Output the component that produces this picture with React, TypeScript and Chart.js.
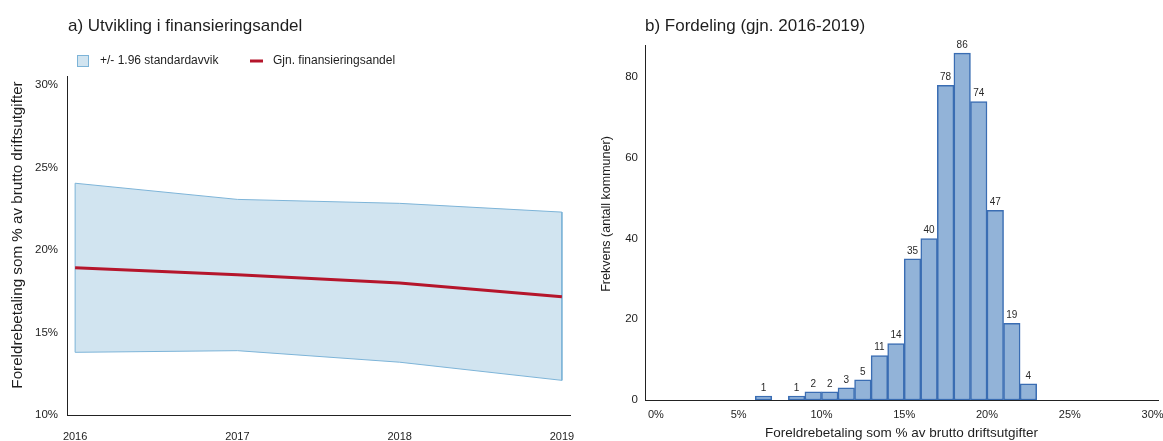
import React, { useEffect, useRef } from 'react';
import { Chart, registerables } from 'chart.js';

Chart.register(...registerables);

const FONT = '"Liberation Sans", Arial, Helvetica, sans-serif';
const TEXT = '#1e1e1e';

// ---- Panel a) data ----
const leftTitle = 'a) Utvikling i finansieringsandel';
const bandLabel = '+/- 1.96 standardavvik';
const meanLabel = 'Gjn. finansieringsandel';
const leftYTitle = 'Foreldrebetaling som % av brutto driftsutgifter';
const years = [2016, 2017, 2018, 2019];
const meanShare = [18.92, 18.5, 18.0, 17.17];
const upperBand = [24.05, 23.07, 22.83, 22.3];
const lowerBand = [13.8, 13.9, 13.2, 12.1];
const leftYTicks = [10, 15, 20, 25, 30];

// ---- Panel b) data ----
const rightTitle = 'b) Fordeling (gjn. 2016-2019)';
const rightXTitle = 'Foreldrebetaling som % av brutto driftsutgifter';
const rightYTitle = 'Frekvens (antall kommuner)';
const binStarts = [6, 7, 8, 9, 10, 11, 12, 13, 14, 15, 16, 17, 18, 19, 20, 21, 22];
const binCounts = [1, 0, 1, 2, 2, 3, 5, 11, 14, 35, 40, 78, 86, 74, 47, 19, 4];
const rightXTicks = [0, 5, 10, 15, 20, 25, 30];
const rightYTicks = [0, 20, 40, 60, 80];

const LEFT_W = 590;
const RIGHT_W = 573;
const H = 441;

function drawVerticalText(ctx: CanvasRenderingContext2D, text: string, x: number, y: number, size: number) {
  ctx.save();
  ctx.translate(x, y);
  ctx.rotate(-Math.PI / 2);
  ctx.font = `${size}px ${FONT}`;
  ctx.fillStyle = TEXT;
  ctx.textAlign = 'center';
  ctx.textBaseline = 'middle';
  ctx.fillText(text, 0, 0);
  ctx.restore();
}

function LeftChart() {
  const ref = useRef<HTMLCanvasElement | null>(null);
  useEffect(() => {
    if (!ref.current) return;
    const header = {
      id: 'leftHeader',
      afterDraw(chart: any) {
        const ctx = chart.ctx as CanvasRenderingContext2D;
        ctx.save();
        ctx.fillStyle = TEXT;
        ctx.textAlign = 'left';
        ctx.textBaseline = 'alphabetic';
        ctx.font = `17px ${FONT}`;
        ctx.fillText(leftTitle, 68, 31);
        // legend
        ctx.fillStyle = '#d1e4f0';
        ctx.fillRect(77.5, 55.5, 11, 11);
        ctx.strokeStyle = '#7db4d8';
        ctx.lineWidth = 1;
        ctx.strokeRect(77.5, 55.5, 11, 11);
        ctx.font = `12px ${FONT}`;
        ctx.fillStyle = TEXT;
        ctx.textBaseline = 'middle';
        ctx.fillText(bandLabel, 100, 61);
        ctx.strokeStyle = '#b5152b';
        ctx.lineWidth = 3;
        ctx.beginPath();
        ctx.moveTo(250, 61);
        ctx.lineTo(263, 61);
        ctx.stroke();
        ctx.fillText(meanLabel, 273, 61);
        ctx.restore();
        drawVerticalText(ctx, leftYTitle, 18, 235, 15.2);
      },
    };
    // closed outline of the band: upper edge forward, lower edge backward
    const outline = [
      ...years.map((x, i) => ({ x, y: upperBand[i] })),
      ...years.map((x, i) => ({ x, y: lowerBand[i] })).reverse(),
      { x: years[0], y: upperBand[0] },
    ];
    const chart = new Chart(ref.current, {
      type: 'line',
      data: {
        datasets: [
          {
            label: meanLabel,
            data: years.map((x, i) => ({ x, y: meanShare[i] })),
            borderColor: '#b5152b',
            borderWidth: 3,
            pointRadius: 0,
            fill: false,
            tension: 0,
          },
          {
            label: 'outline',
            data: outline,
            borderColor: '#7db4d8',
            borderWidth: 1,
            pointRadius: 0,
            fill: false,
            tension: 0,
          },
          {
            label: bandLabel,
            data: years.map((x, i) => ({ x, y: upperBand[i] })),
            borderWidth: 0,
            borderColor: 'rgba(0,0,0,0)',
            backgroundColor: '#d1e4f0',
            pointRadius: 0,
            fill: '+1',
            tension: 0,
          },
          {
            label: 'lower',
            data: years.map((x, i) => ({ x, y: lowerBand[i] })),
            borderWidth: 0,
            borderColor: 'rgba(0,0,0,0)',
            pointRadius: 0,
            fill: false,
            tension: 0,
          },
        ],
      },
      options: {
        animation: false,
        responsive: false,
        devicePixelRatio: 1,
        layout: { padding: { left: 0, right: 20, top: 76, bottom: 0 } },
        plugins: {
          legend: { display: false },
          title: { display: false },
          tooltip: { enabled: false },
        },
        scales: {
          x: {
            type: 'linear',
            min: 2015.95,
            max: 2019.05,
            grid: { display: false, drawTicks: false },
            border: { display: true, color: '#222', width: 1 },
            afterBuildTicks: (s: any) => {
              s.ticks = years.map((v) => ({ value: v }));
            },
            afterFit: (s: any) => {
              s.height = 26;
              s.paddingLeft = 0;
              s.paddingRight = 0;
            },
            ticks: {
              callback: (v: any) => String(v),
              font: { family: FONT, size: 11 },
              color: TEXT,
              padding: 15,
              maxRotation: 0,
              autoSkip: false,
            },
          },
          y: {
            type: 'linear',
            min: 10,
            max: 30.55,
            grid: { display: false, drawTicks: false },
            border: { display: true, color: '#222', width: 1 },
            afterBuildTicks: (s: any) => {
              s.ticks = leftYTicks.map((v) => ({ value: v }));
            },
            afterFit: (s: any) => {
              s.width = 67;
            },
            ticks: {
              callback: (v: any) => `${v}%`,
              font: { family: FONT, size: 11.5 },
              color: TEXT,
              padding: 9,
            },
          },
        },
      },
      plugins: [header],
    } as any);
    return () => chart.destroy();
  }, []);
  return (
    <canvas
      ref={ref}
      width={LEFT_W}
      height={H}
      style={{ position: 'absolute', left: 0, top: 0, width: LEFT_W, height: H }}
    />
  );
}

function RightChart() {
  const ref = useRef<HTMLCanvasElement | null>(null);
  useEffect(() => {
    if (!ref.current) return;
    const header = {
      id: 'rightHeader',
      afterDraw(chart: any) {
        const ctx = chart.ctx as CanvasRenderingContext2D;
        ctx.save();
        ctx.fillStyle = TEXT;
        ctx.textAlign = 'left';
        ctx.textBaseline = 'alphabetic';
        ctx.font = `17px ${FONT}`;
        ctx.fillText(rightTitle, 55, 31);
        ctx.restore();
        drawVerticalText(ctx, rightYTitle, 17, 214, 12.5);
      },
    };
    const barLabels = {
      id: 'barLabels',
      afterDatasetsDraw(chart: any) {
        const ctx = chart.ctx as CanvasRenderingContext2D;
        const meta = chart.getDatasetMeta(0);
        ctx.save();
        ctx.fillStyle = '#2a2a2a';
        ctx.font = `10px ${FONT}`;
        ctx.textAlign = 'center';
        ctx.textBaseline = 'bottom';
        meta.data.forEach((bar: any, i: number) => {
          const c = binCounts[i];
          if (!c || !isFinite(bar.y)) return;
          ctx.fillText(String(c), bar.x, bar.y - 3);
        });
        ctx.restore();
      },
    };
    const chart = new Chart(ref.current, {
      type: 'bar',
      data: {
        datasets: [
          {
            label: rightYTitle,
            data: binStarts.map((b, i) => ({ x: b + 0.5, y: binCounts[i] === 0 ? null : binCounts[i] })),
            backgroundColor: '#92b3d8',
            borderColor: '#3a6db3',
            borderWidth: 1.5,
            borderSkipped: false,
            barPercentage: 1,
            categoryPercentage: 1,
          },
        ],
      },
      options: {
        animation: false,
        responsive: false,
        devicePixelRatio: 1,
        layout: { padding: { left: 0, right: 5, top: 45, bottom: 0 } },
        plugins: {
          legend: { display: false },
          title: { display: false },
          tooltip: { enabled: false },
        },
        scales: {
          x: {
            type: 'linear',
            min: -0.66,
            max: 30.33,
            offset: false,
            grid: { display: false, drawTicks: false, offset: false },
            border: { display: true, color: '#222', width: 1 },
            afterBuildTicks: (s: any) => {
              s.ticks = rightXTicks.map((v) => ({ value: v }));
            },
            afterFit: (s: any) => {
              s.height = 41;
              s.paddingLeft = 0;
              s.paddingRight = 0;
            },
            ticks: {
              callback: (v: any) => `${v}%`,
              font: { family: FONT, size: 11 },
              color: TEXT,
              padding: 8,
              maxRotation: 0,
              autoSkip: false,
            },
            title: {
              display: true,
              text: rightXTitle,
              font: { family: FONT, size: 13.5 },
              color: TEXT,
              padding: { top: 0, bottom: 0 },
            },
          },
          y: {
            type: 'linear',
            min: 0,
            max: 88,
            grid: { display: false, drawTicks: false },
            border: { display: true, color: '#222', width: 1 },
            afterBuildTicks: (s: any) => {
              s.ticks = rightYTicks.map((v) => ({ value: v }));
            },
            afterFit: (s: any) => {
              s.width = 55;
            },
            ticks: {
              font: { family: FONT, size: 11.5 },
              color: TEXT,
              padding: 7,
            },
          },
        },
      },
      plugins: [barLabels, header],
    } as any);
    return () => chart.destroy();
  }, []);
  return (
    <canvas
      ref={ref}
      width={RIGHT_W}
      height={H}
      style={{ position: 'absolute', left: LEFT_W, top: 0, width: RIGHT_W, height: H }}
    />
  );
}

export default function App() {
  return (
    <div
      style={{
        position: 'absolute',
        left: 0,
        top: 0,
        width: LEFT_W + RIGHT_W,
        height: H,
        background: '#ffffff',
        overflow: 'hidden',
      }}
    >
      <LeftChart />
      <RightChart />
    </div>
  );
}
